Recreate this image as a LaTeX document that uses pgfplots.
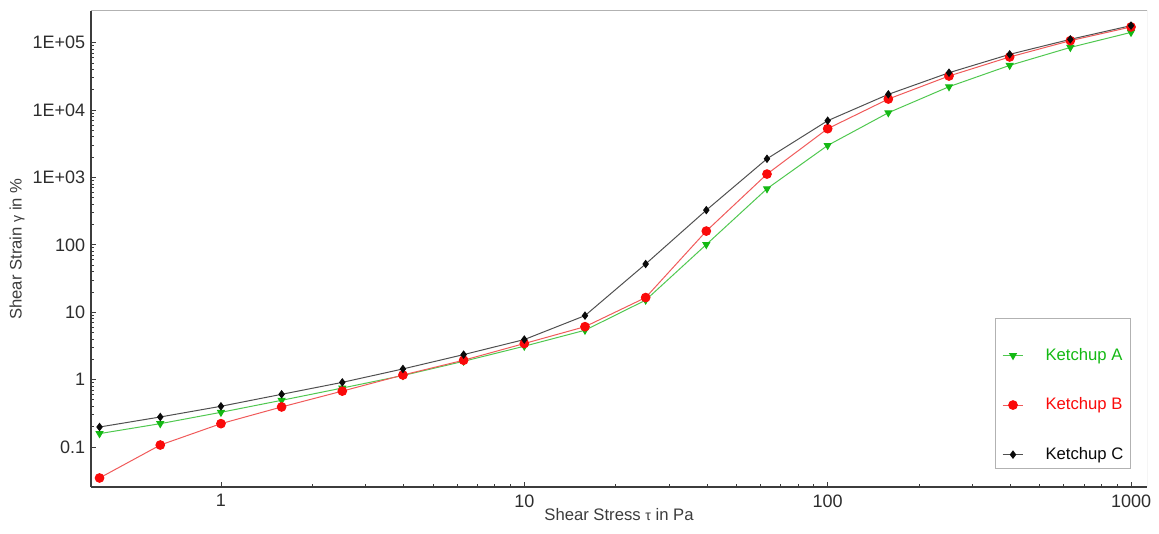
\documentclass[border=0pt]{standalone}
\usepackage{fontspec}
\setmainfont{Liberation Sans}
\usepackage{pgfplots}
\pgfplotsset{compat=1.18}
\definecolor{ketA}{RGB}{20,185,20}
\definecolor{ketAline}{RGB}{80,200,80}
\definecolor{ketB}{RGB}{250,10,10}
\definecolor{ketBline}{RGB}{240,90,90}
\definecolor{ketC}{RGB}{10,10,10}
\definecolor{ketCline}{RGB}{80,80,80}
\definecolor{axdark}{RGB}{60,60,60}
\definecolor{txtgray}{RGB}{45,45,45}

\begin{document}
\begin{tikzpicture}
\path[use as bounding box] (-54.6pt,-28.2pt) rectangle (640.8pt,292.2pt);
\begin{axis}[
  at={(0,0)}, anchor=south west,
  width=633.6pt, height=285.6pt, scale only axis,
  xmode=log, ymode=log,
  xmin=0.373, xmax=1129, ymin=0.0255, ymax=2.95e5,
  xtick={1,10,100,1000}, xticklabels={1,10,100,1000},
  ytick={0.1,1,10,100,1000,10000,100000},
  yticklabels={0.1,1,10,100,1E+03,1E+04,1E+05},
  axis x line*=bottom, axis y line*=left,
  axis line style={axdark, line width=0.9pt},
  tick align=inside,
  major tick length=3pt, minor tick length=1.8pt,
  every tick/.style={axdark, line width=0.5pt},
  tick label style={font=\fontsize{10.8}{13}\selectfont, text=txtgray},
  xticklabel style={yshift=-1pt},
  every axis x label/.style={at={(rel axis cs:0.5,0)}, yshift=-16.5pt, anchor=center,
    font=\fontsize{10}{12}\selectfont, text=axdark},
  every axis y label/.style={at={(rel axis cs:0,0.5)}, xshift=-44.4pt, rotate=90, anchor=center,
    font=\fontsize{10}{12}\selectfont, text=axdark},
  xlabel={Shear Stress {\fontsize{8.5}{10}\selectfont τ} in Pa},
  ylabel={Shear Strain {\fontsize{8.5}{10}\selectfont γ} in \%},
  legend style={at={(rel axis cs:0.984,0.038)}, anchor=south east, xshift=3pt,
    draw=none, fill=none,
    font=\fontsize{10}{12}\selectfont, row sep=17pt, inner xsep=4.8pt, inner ysep=2pt,
    cells={anchor=west}},
  legend image code/.code={\draw[mark repeat=2,mark phase=2,#1]
    plot coordinates {(0cm,0cm) (0.22cm,0cm) (0.44cm,0cm)};},
]
\draw[gray!60, line width=0.6pt] (rel axis cs:0,1) -- (rel axis cs:1,1) -- (rel axis cs:1,0);
\draw[gray!60, line width=0.6pt] (rel axis cs:0.857,0.038) rectangle (rel axis cs:0.984,0.353);

\addplot[ketAline, line width=0.6pt, mark=triangle*, mark size=2.3pt,
  mark options={fill=ketA, draw=ketA, rotate=180}] coordinates {
  (0.398,0.158) (0.631,0.222) (1,0.327) (1.585,0.493) (2.512,0.75) (3.981,1.15)
  (6.31,1.87) (10,3.13) (15.85,5.4) (25.12,15.1) (39.81,101) (63.1,680)
  (100,2985) (158.5,9120) (251.2,22200) (398.1,46000) (631,85000) (1000,142000)
};
\addlegendentry{\hspace*{11pt}\textcolor{ketA}{Ketchup A}}

\addplot[ketBline, line width=0.6pt, mark=*, mark size=2.6pt,
  mark options={fill=ketB, draw=ketB}] coordinates {
  (0.398,0.0347) (0.631,0.107) (1,0.222) (1.585,0.393) (2.512,0.675) (3.981,1.17)
  (6.31,1.94) (10,3.43) (15.85,6.1) (25.12,16.5) (39.81,160) (63.1,1122)
  (100,5290) (158.5,14570) (251.2,32000) (398.1,61300) (631,107000) (1000,171000)
};
\addlegendentry{\hspace*{11pt}\textcolor{ketB}{Ketchup B}}

\addplot[ketCline, line width=0.6pt, mark=diamond*, mark size=2.1pt,
  mark options={fill=ketC, draw=ketC}] coordinates {
  (0.398,0.198) (0.631,0.279) (1,0.402) (1.585,0.605) (2.512,0.91) (3.981,1.44)
  (6.31,2.35) (10,3.93) (15.85,8.9) (25.12,52) (39.81,327) (63.1,1893)
  (100,6950) (158.5,17100) (251.2,35800) (398.1,67100) (631,112000) (1000,179000)
};
\addlegendentry{\hspace*{11pt}\textcolor{ketC}{Ketchup C}}
\end{axis}
\end{tikzpicture}
\end{document}
